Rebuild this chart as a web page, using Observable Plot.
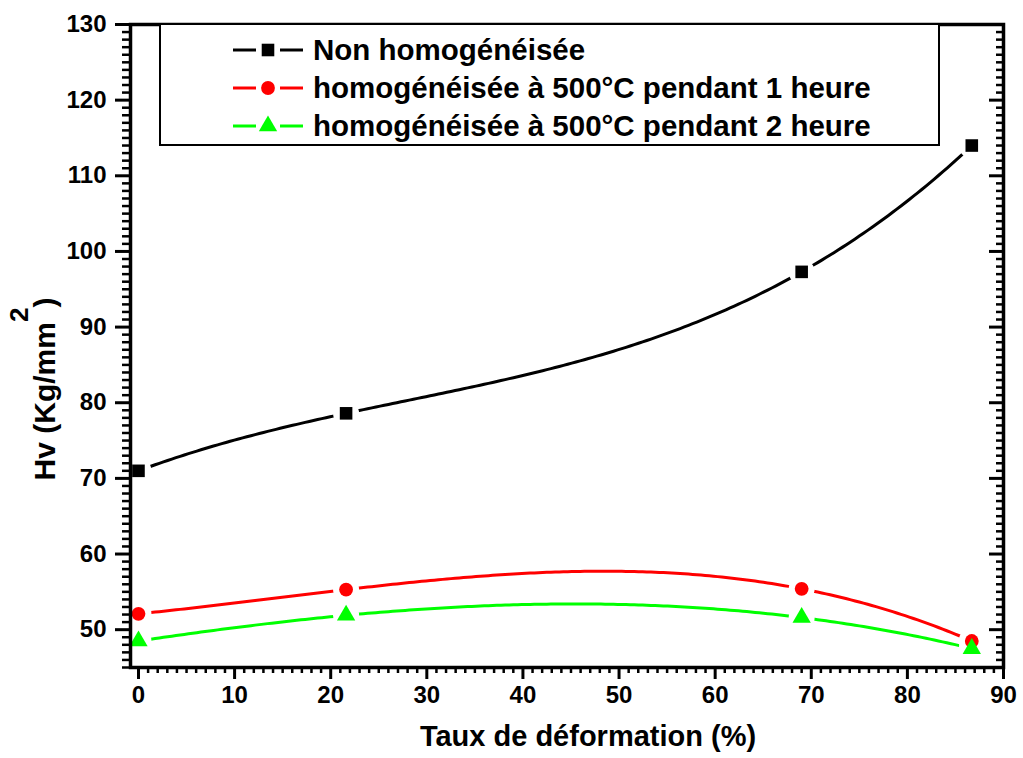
<!DOCTYPE html>
<html><head><meta charset="utf-8">
<script src="https://cdn.jsdelivr.net/npm/d3@7"></script>
<script src="https://cdn.jsdelivr.net/npm/@observablehq/plot@0.6"></script>
<style>
body{margin:0;background:#fff;}
#chart{position:relative;width:1023px;height:758px;}
</style>
</head><body><div id="chart"></div>
<script>
// ---- data ----
const xValues = [0, 21.6, 69, 86.7];
const nonHomog = [71, 78.6, 97.3, 114];
const homog1h = [52.1, 55.3, 55.4, 48.5];
const homog2h = [48.5, 51.9, 51.6, 47.5];
const seriesNames = [
  "Non homogénéisée",
  "homogénéisée à 500°C pendant 1 heure",
  "homogénéisée à 500°C pendant 2 heure"
];
const seriesValues = [nonHomog, homog1h, homog2h];
const seriesColors = ["#000000", "#ff0000", "#00ff00"];
const seriesSymbols = ["square", "circle", "triangle"];
const xTicks = [0, 10, 20, 30, 40, 50, 60, 70, 80, 90];
const yTicks = [50, 60, 70, 80, 90, 100, 110, 120, 130];
const xLabel = "Taux de déformation (%)";
const yLabelMain = "Hv (Kg/mm";
const yLabelSup = "2";
const yLabelEnd = ")";

// ---- custom curve: spline through the points (not-a-knot; for 4 points = single cubic) ----
function splineCurve(context) {
  let pts = [];
  return {
    areaStart() {}, areaEnd() {},
    lineStart() { pts = []; },
    point(x, y) { pts.push([+x, +y]); },
    lineEnd() {
      const n = pts.length;
      if (!n) return;
      const P = (x) => {
        let s = 0;
        for (let i = 0; i < n; i++) {
          let l = 1;
          for (let j = 0; j < n; j++) if (j !== i) l *= (x - pts[j][0]) / (pts[i][0] - pts[j][0]);
          s += l * pts[i][1];
        }
        return s;
      };
      const x0 = pts[0][0], x1 = pts[n - 1][0];
      const steps = 200;
      context.moveTo(x0, pts[0][1]);
      for (let k = 1; k <= steps; k++) {
        const x = x0 + (x1 - x0) * k / steps;
        context.lineTo(x, P(x));
      }
    }
  };
}

// ---- build ----
const markerR = {square: 7.1, circle: 6.9, triangle: 6.8};
const rows = seriesNames.flatMap((s, i) =>
  xValues.map((x, j) => ({series: s, x, y: seriesValues[i][j], size: markerR[seriesSymbols[i]]})));
const xMinor = d3.range(0, 91, 1).filter(v => v % 10 !== 0);
const yMinor = d3.range(45, 131, 1).filter(v => v % 10 !== 0);

const font = "'Liberation Sans', Arial, Helvetica, sans-serif";

const plot = Plot.plot({
  width: 1023, height: 758,
  marginLeft: 130, marginRight: 20, marginTop: 24, marginBottom: 91,
  style: {fontFamily: font, fontWeight: "bold", fontSize: "24px", color: "#000", background: "#fff"},
  x: {domain: [-0.83, 90]},
  y: {domain: [45, 130]},
  color: {domain: seriesNames, range: seriesColors},
  symbol: {domain: seriesNames, range: seriesSymbols},
  r: {type: "identity"},
  marks: [
    Plot.line(rows, {x: "x", y: "y", z: "series", stroke: "series", strokeWidth: 3, curve: splineCurve}),
    Plot.dot(rows, {x: "x", y: "y", r: 13, fill: "white", stroke: null}),
    Plot.dot(rows, {x: "x", y: "y", symbol: "series", fill: "series", stroke: null, r: "size"}),
    Plot.frame({stroke: "#000", strokeWidth: 3.5}),
    Plot.axisX({ticks: xTicks, tickSize: 12, tickPadding: 6, strokeWidth: 3, label: null, fontSize: 24}),
    Plot.axisX({ticks: xMinor, tickSize: 6, text: null, label: null, strokeWidth: 2.5}),
    Plot.axisY({ticks: yTicks, tickSize: 15, tickPadding: 9, strokeWidth: 3, label: null, fontSize: 24}),
    Plot.axisY({ticks: yMinor, tickSize: 8, text: null, label: null, strokeWidth: 2.5}),
    Plot.axisY({anchor: "right", ticks: yTicks, tickSize: -15, text: null, label: null, strokeWidth: 3}),
    Plot.axisY({anchor: "right", ticks: yMinor, tickSize: -8, text: null, label: null, strokeWidth: 2.5})
  ]
});
document.getElementById("chart").appendChild(plot);

// ---- titles & legend ----
const svg = d3.select(plot);
svg.append("text")
  .attr("x", 588).attr("y", 746)
  .attr("text-anchor", "middle")
  .style("font-family", font).style("font-weight", "bold").style("font-size", "29px")
  .attr("fill", "#000")
  .text(xLabel);

const yt = svg.append("text")
  .attr("transform", "translate(55,389) rotate(-90)")
  .attr("text-anchor", "middle")
  .style("font-family", font).style("font-weight", "bold").style("font-size", "30px")
  .attr("fill", "#000");
yt.append("tspan").text(yLabelMain);
yt.append("tspan").attr("dy", -27).style("font-size", "26px").text(yLabelSup);
yt.append("tspan").attr("dy", 27).text(yLabelEnd);

const lg = svg.append("g");
lg.append("rect").attr("x", 160).attr("y", 24).attr("width", 779).attr("height", 121)
  .attr("fill", "#fff").attr("stroke", "#000").attr("stroke-width", 2);
const symMap = {square: d3.symbolSquare, circle: d3.symbolCircle, triangle: d3.symbolTriangle};
seriesNames.forEach((name, i) => {
  const cy = 50 + i * 38;
  const g = lg.append("g");
  g.append("line").attr("x1", 233).attr("x2", 256).attr("y1", cy).attr("y2", cy)
    .attr("stroke", seriesColors[i]).attr("stroke-width", 3);
  g.append("line").attr("x1", 280).attr("x2", 303).attr("y1", cy).attr("y2", cy)
    .attr("stroke", seriesColors[i]).attr("stroke-width", 3);
  const r = markerR[seriesSymbols[i]];
  g.append("path").attr("transform", `translate(268,${cy})`)
    .attr("d", d3.symbol(symMap[seriesSymbols[i]], r * r * Math.PI)())
    .attr("fill", seriesColors[i]);
  g.append("text").attr("x", 313).attr("y", cy + 10)
    .attr("text-anchor", "start")
    .style("font-family", font).style("font-weight", "bold").style("font-size", "29.5px")
    .attr("fill", "#000").text(name);
});
</script>
</body></html>
